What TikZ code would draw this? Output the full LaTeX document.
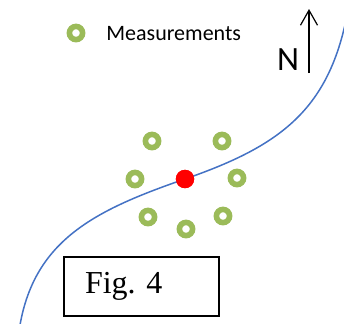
\documentclass[tikz,border=0pt]{standalone}
\usepackage{fontspec}
\setmainfont{Liberation Serif}
\newfontfamily\calibri{Carlito}
\usetikzlibrary{positioning,arrows.meta}
\definecolor{measgreen}{RGB}{155,187,89}
\definecolor{riverblue}{RGB}{68,114,196}
\tikzset{
  meas/.style={circle,draw=measgreen,line width=2.8pt,minimum size=6.6pt,inner sep=0pt},
  site/.style={circle,fill=red,minimum size=9.2pt,inner sep=0pt},
  river/.style={riverblue,line width=0.75pt},
  northarr/.style={-{Straight Barb[length=7.5pt,width=8.5pt]},line width=0.6pt,black},
  figbox/.style={draw=black,line width=0.7pt,minimum width=77.5pt,minimum height=29.5pt,
                 inner xsep=10.5pt,text width=56.5pt,align=left,font=\fontsize{16}{18}\selectfont},
}
\begin{document}
\begin{tikzpicture}[x=0.5pt,y=-0.5pt]
  \clip (0,0) rectangle (344,323);
  \useasboundingbox (0,0) rectangle (344,323);
  \node[meas] (key) at (76,33) {};
  \node[anchor=base west,inner sep=0pt,font=\calibri\fontsize{11}{13}\selectfont] (keytext) at (106,40) {Measurements};
  \node[anchor=base,font=\calibri\fontsize{17}{20}\selectfont] (north) at (288,70) {N};
  \coordinate (nfoot) at (309,73);
  \coordinate (ntip) at (309,9);
  \draw[northarr] (nfoot) -- (ntip);
  \coordinate (rstart) at (20,325);
  \coordinate (rend) at (348,10);
  \node[site] (well) at (185,179) {};
  \draw[river] (rstart) .. controls (35,240) and (95,210) .. (well.center)
    .. controls (280,146) and (330,110) .. (rend);
  \node[site] at (well) {};
  \node[meas] (m1) at (152,141) {};
  \node[meas] (m2) at (222,141) {};
  \node[meas] (m3) at (135,179) {};
  \node[meas] (m4) at (237,178) {};
  \node[meas] (m5) at (148,217) {};
  \node[meas] (m6) at (186,229) {};
  \node[meas] (m7) at (223,216) {};
  \node[figbox] (fig) at (141.5,286.5) {Fig.\ 4};
\end{tikzpicture}
\end{document}
